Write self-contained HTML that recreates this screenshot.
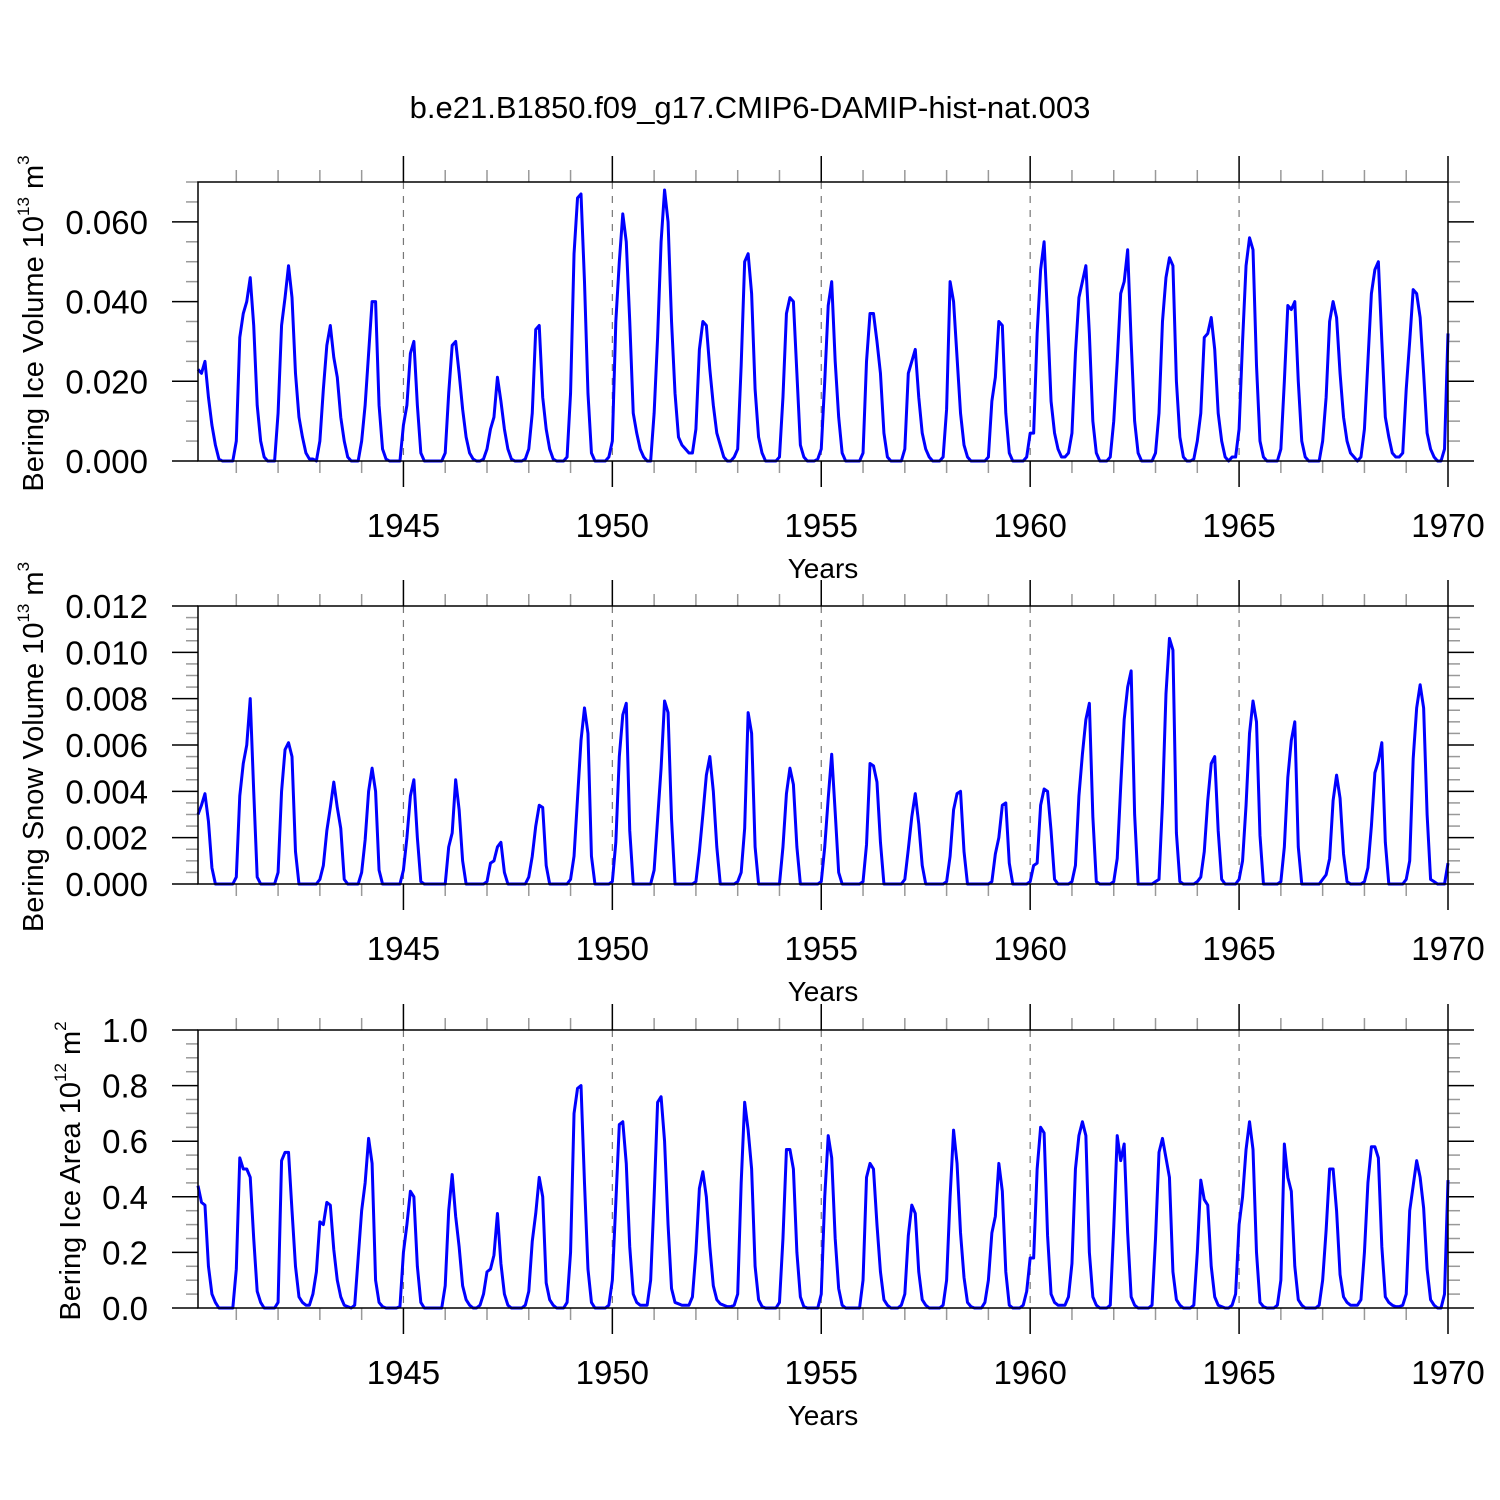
<!DOCTYPE html>
<html>
<head>
<meta charset="utf-8">
<style>
html,body{margin:0;padding:0;background:#fff;}
svg{display:block;font-family:"Liberation Sans",Arial,sans-serif;}
</style>
</head>
<body>
<svg id="chart" width="1500" height="1500" viewBox="0 0 1500 1500" xmlns="http://www.w3.org/2000/svg">
<rect width="1500" height="1500" fill="#fff"/>
<text x="750" y="118" font-size="31" text-anchor="middle">b.e21.B1850.f09_g17.CMIP6-DAMIP-hist-nat.003</text>
</svg>
<script>
// ---- data (monthly values, rows per year 1940..1969, time = year + (m+1)/12) ----
const startYear = 1940;
const yearTicks = [1945, 1950, 1955, 1960, 1965, 1970];
const volTickLabels = ["0.000", "0.020", "0.040", "0.060"];
const volTicks = [0, 0.02, 0.04, 0.06];
const snowTickLabels = ["0.000", "0.002", "0.004", "0.006", "0.008", "0.010", "0.012"];
const snowTicks = [0, 0.002, 0.004, 0.006, 0.008, 0.010, 0.012];
const areaTickLabels = ["0.0", "0.2", "0.4", "0.6", "0.8", "1.0"];
const areaTicks = [0, 0.2, 0.4, 0.6, 0.8, 1.0];

const iceVolume = [
[0.023,0.022,0.025,0.016,0.009,0.004,0.0005,0,0,0,0,0.005],
[0.031,0.037,0.040,0.046,0.034,0.014,0.005,0.001,0,0,0,0.012],
[0.034,0.041,0.049,0.041,0.022,0.011,0.006,0.002,0.0005,0.0005,0,0.005],
[0.018,0.029,0.034,0.026,0.021,0.011,0.005,0.001,0,0,0,0.005],
[0.014,0.027,0.040,0.040,0.014,0.003,0.0005,0,0,0,0,0.009],
[0.014,0.027,0.030,0.014,0.002,0,0,0,0,0,0,0.002],
[0.017,0.029,0.030,0.022,0.013,0.006,0.002,0.0005,0,0,0.0005,0.003],
[0.008,0.011,0.021,0.015,0.008,0.003,0.0005,0,0,0,0.0005,0.003],
[0.012,0.033,0.034,0.016,0.008,0.003,0.0005,0,0,0,0.001,0.017],
[0.052,0.066,0.067,0.045,0.017,0.002,0,0,0,0,0.001,0.005],
[0.035,0.050,0.062,0.055,0.035,0.012,0.007,0.003,0.001,0,0,0.012],
[0.031,0.055,0.068,0.060,0.035,0.017,0.006,0.004,0.003,0.002,0.002,0.008],
[0.028,0.035,0.034,0.023,0.014,0.007,0.004,0.001,0,0,0.001,0.003],
[0.024,0.050,0.052,0.042,0.018,0.006,0.002,0,0,0,0,0.001],
[0.016,0.037,0.041,0.040,0.022,0.004,0.001,0,0,0,0.0005,0.003],
[0.020,0.039,0.045,0.025,0.011,0.002,0,0,0,0,0,0.002],
[0.025,0.037,0.037,0.030,0.022,0.007,0.001,0,0,0,0,0.003],
[0.022,0.025,0.028,0.016,0.007,0.003,0.001,0,0,0,0.001,0.013],
[0.045,0.040,0.026,0.012,0.004,0.001,0,0,0,0,0,0.001],
[0.015,0.021,0.035,0.034,0.012,0.002,0,0,0,0,0.001,0.007],
[0.007,0.032,0.048,0.055,0.036,0.015,0.007,0.003,0.001,0.001,0.002,0.007],
[0.027,0.041,0.045,0.049,0.032,0.010,0.002,0,0,0,0.001,0.010],
[0.025,0.042,0.045,0.053,0.030,0.010,0.002,0,0,0,0,0.002],
[0.012,0.035,0.046,0.051,0.049,0.020,0.006,0.001,0,0,0.0005,0.005],
[0.012,0.031,0.032,0.036,0.028,0.012,0.005,0.001,0,0.001,0.001,0.008],
[0.030,0.049,0.056,0.053,0.024,0.005,0.001,0,0,0,0,0.003],
[0.020,0.039,0.038,0.040,0.020,0.005,0.001,0,0,0,0,0.005],
[0.016,0.035,0.040,0.036,0.022,0.011,0.005,0.002,0.001,0,0.001,0.008],
[0.025,0.042,0.048,0.050,0.030,0.011,0.006,0.002,0.001,0.001,0.002,0.018],
[0.030,0.043,0.042,0.036,0.022,0.007,0.003,0.001,0,0,0.003,0.032]
];

const snowVolume = [
[3.0,3.4,3.9,2.7,0.7,0,0,0,0,0,0,0.3],
[3.8,5.2,6.0,8.0,4.0,0.3,0,0,0,0,0,0.5],
[4.0,5.8,6.1,5.5,1.4,0,0,0,0,0,0,0.2],
[0.8,2.3,3.3,4.4,3.3,2.4,0.2,0,0,0,0,0.5],
[1.9,4.0,5.0,4.0,0.6,0,0,0,0,0,0,0.6],
[2.0,3.8,4.5,2.0,0.1,0,0,0,0,0,0,0],
[1.6,2.2,4.5,3.2,1.0,0,0,0,0,0,0,0.1],
[0.9,1.0,1.6,1.8,0.5,0,0,0,0,0,0,0.3],
[1.2,2.5,3.4,3.3,0.8,0,0,0,0,0,0,0.2],
[1.2,3.7,6.2,7.6,6.5,1.2,0,0,0,0,0,0.1],
[1.8,5.5,7.3,7.8,2.3,0,0,0,0,0,0,0.6],
[2.8,5.0,7.9,7.4,2.8,0,0,0,0,0,0,0.1],
[1.4,3.0,4.7,5.5,4.0,1.6,0,0,0,0,0,0.1],
[0.5,2.4,7.4,6.5,1.6,0,0,0,0,0,0,0],
[1.6,3.9,5.0,4.3,1.6,0,0,0,0,0,0,0.1],
[1.6,3.7,5.6,3.1,0.5,0,0,0,0,0,0,0.1],
[1.7,5.2,5.1,4.4,1.8,0,0,0,0,0,0,0.2],
[1.5,2.9,3.9,2.6,0.8,0,0,0,0,0,0,0.1],
[1.2,3.2,3.9,4.0,1.4,0,0,0,0,0,0,0],
[0.1,1.3,2.0,3.4,3.5,0.9,0,0,0,0,0,0.1],
[0.8,0.9,3.4,4.1,4.0,2.3,0.2,0,0,0,0,0.1],
[0.8,3.8,5.6,7.1,7.8,2.9,0.1,0,0,0,0,0.1],
[1.1,4.2,7.1,8.5,9.2,3.0,0,0,0,0,0,0.1],
[0.2,3.5,8.2,10.6,10.1,2.2,0.1,0,0,0,0,0.1],
[0.3,1.4,3.6,5.2,5.5,2.3,0.2,0,0,0,0,0.2],
[1.0,3.4,6.5,7.9,7.0,2.1,0,0,0,0,0,0.1],
[1.6,4.6,6.2,7.0,1.6,0,0,0,0,0,0,0.2],
[0.4,1.1,3.6,4.7,3.7,1.3,0.1,0,0,0,0,0.1],
[0.7,2.5,4.8,5.3,6.1,1.8,0,0,0,0,0,0.2],
[1.0,5.4,7.6,8.6,7.6,3.0,0.2,0.1,0,0,0,0.9]
];
const snowScale = 0.001;

const iceArea = [
[0.44,0.38,0.37,0.15,0.05,0.02,0,0,0,0,0,0.14],
[0.54,0.50,0.50,0.47,0.25,0.06,0.02,0,0,0,0,0.02],
[0.53,0.56,0.56,0.35,0.15,0.04,0.02,0.01,0.01,0.05,0.13,0.31],
[0.30,0.38,0.37,0.21,0.10,0.04,0.01,0.005,0,0.01,0.18,0.35],
[0.45,0.61,0.52,0.10,0.02,0.005,0,0,0,0,0.005,0.2],
[0.30,0.42,0.40,0.15,0.02,0,0,0,0,0,0,0.08],
[0.35,0.48,0.33,0.22,0.08,0.03,0.01,0,0,0.01,0.05,0.13],
[0.14,0.19,0.34,0.16,0.05,0.01,0,0,0,0,0.01,0.06],
[0.24,0.34,0.47,0.40,0.09,0.03,0.01,0,0,0,0.02,0.2],
[0.70,0.79,0.80,0.45,0.14,0.02,0,0,0,0,0.01,0.1],
[0.38,0.66,0.67,0.52,0.22,0.05,0.02,0.01,0.01,0.01,0.1,0.4],
[0.74,0.76,0.60,0.30,0.07,0.02,0.015,0.01,0.01,0.01,0.04,0.2],
[0.43,0.49,0.40,0.22,0.08,0.03,0.015,0.01,0.005,0.005,0.01,0.05],
[0.45,0.74,0.64,0.50,0.15,0.03,0.005,0,0,0,0,0.02],
[0.25,0.57,0.57,0.50,0.20,0.04,0.005,0,0,0,0,0.05],
[0.40,0.62,0.54,0.25,0.07,0.01,0,0,0,0,0,0.1],
[0.47,0.52,0.50,0.30,0.13,0.03,0.01,0,0,0,0.01,0.05],
[0.26,0.37,0.34,0.13,0.03,0.01,0,0,0,0,0.01,0.1],
[0.40,0.64,0.52,0.27,0.11,0.02,0.005,0,0,0,0.02,0.1],
[0.27,0.33,0.52,0.42,0.13,0.01,0,0,0,0.01,0.06,0.18],
[0.18,0.50,0.65,0.63,0.26,0.05,0.02,0.01,0.01,0.01,0.04,0.16],
[0.50,0.62,0.67,0.62,0.20,0.04,0.01,0,0,0,0.01,0.29],
[0.62,0.53,0.59,0.27,0.04,0.01,0,0,0,0,0.01,0.25],
[0.56,0.61,0.54,0.47,0.13,0.03,0.01,0,0,0,0.01,0.2],
[0.46,0.39,0.37,0.15,0.04,0.01,0.005,0,0,0.01,0.05,0.3],
[0.40,0.57,0.67,0.57,0.20,0.02,0.005,0,0,0,0.01,0.1],
[0.59,0.47,0.42,0.15,0.03,0.01,0,0,0,0,0.01,0.1],
[0.28,0.50,0.50,0.35,0.12,0.04,0.02,0.01,0.01,0.01,0.03,0.2],
[0.45,0.58,0.58,0.54,0.22,0.04,0.02,0.01,0.005,0.005,0.01,0.05],
[0.35,0.44,0.53,0.47,0.36,0.14,0.03,0.01,0,0,0.05,0.46]
];

// ---- layout ----
const NS = "http://www.w3.org/2000/svg";
const svg = document.getElementById("chart");
const X0 = 198, X1 = 1448;
const TMIN = 1940 + 1/12, TMAX = 1970;
function xScale(t){ return X0 + (t - TMIN) / (TMAX - TMIN) * (X1 - X0); }

function mk(tag, attrs, parent){
  const e = document.createElementNS(NS, tag);
  for (const k in attrs) e.setAttribute(k, attrs[k]);
  (parent || svg).appendChild(e);
  return e;
}

const panels = [
  {key:"ice-volume", top:182, bottom:461, ymax:0.07, rows:iceVolume, scale:1, ticks:volTicks, labels:volTickLabels, minor:0.005,
   title:["Bering Ice Volume 10","13"," m","3"], titleX:43},
  {key:"snow-volume", top:606, bottom:884, ymax:0.012, rows:snowVolume, scale:snowScale, ticks:snowTicks, labels:snowTickLabels, minor:0.0005,
   title:["Bering Snow Volume 10","13"," m","3"], titleX:43},
  {key:"ice-area", top:1030, bottom:1308, ymax:1.0, rows:iceArea, scale:1, ticks:areaTicks, labels:areaTickLabels, minor:0.05,
   title:["Bering Ice Area 10","12"," m","2"], titleX:80}
];

panels.forEach(function(p){
  const g = mk("g", {});
  
  
  const yScale = function(v){ return p.bottom - v / p.ymax * (p.bottom - p.top); };

  yearTicks.forEach(function(y){
    if (y >= 1970) return;
    const gl = mk("line", {x1:xScale(y), x2:xScale(y), y1:p.top, y2:p.bottom, stroke:"#777", "stroke-width":1.2, "stroke-dasharray":"7,7"}, g);
    
    
  });

  for (let y = 1941; y <= 1970; y++){
    const major = (y % 5 === 0);
    const len = major ? 26 : 12;
    const col = major ? "#000" : "#999";
    const xx = xScale(y);
    const tb = mk("line", {x1:xx, x2:xx, y1:p.bottom, y2:p.bottom + len, stroke:col, "stroke-width":1.5}, g);
    
    
    const tt = mk("line", {x1:xx, x2:xx, y1:p.top, y2:p.top - len, stroke:col, "stroke-width":1.5}, g);
    
    
  }

  const nMinor = Math.round(p.ymax / p.minor);
  for (let i = 0; i <= nMinor; i++){
    const v = i * p.minor;
    const isMajor = p.ticks.some(function(t){ return Math.abs(t - v) < p.minor/10; });
    const len = isMajor ? 26 : 12;
    const col = isMajor ? "#000" : "#999";
    const yy = yScale(v);
    const tl = mk("line", {x1:X0 - len, x2:X0, y1:yy, y2:yy, stroke:col, "stroke-width":1.5}, g);
    
    
    const tr = mk("line", {x1:X1, x2:X1 + len, y1:yy, y2:yy, stroke:col, "stroke-width":1.5}, g);
    
    
  }

  p.ticks.forEach(function(t, i){
    const tx = mk("text", {x:148, y:yScale(t) + 12, "font-size":33, "text-anchor":"end"}, g);
    tx.textContent = p.labels[i];
    
    
  });

  yearTicks.forEach(function(y){
    const tx = mk("text", {x:xScale(y), y:p.bottom + 76, "font-size":33, "text-anchor":"middle"}, g);
    tx.textContent = String(y);
    
    
  });

  const xt = mk("text", {x:823, y:p.bottom + 117, "font-size":28, "text-anchor":"middle"}, g);
  xt.textContent = "Years";
  
  

  const cy = (p.top + p.bottom) / 2;
  const yt = mk("text", {x:0, y:0, "font-size":29, "text-anchor":"middle", transform:"translate(" + p.titleX + "," + (cy + 2) + ") rotate(-90)"}, g);
  
  
  const s1 = mk("tspan", {}, yt); s1.textContent = p.title[0];
  const s2 = mk("tspan", {"font-size":17, dy:-14}, yt); s2.textContent = p.title[1];
  const s3 = mk("tspan", {dy:14}, yt); s3.textContent = p.title[2];
  const s4 = mk("tspan", {"font-size":17, dy:-14}, yt); s4.textContent = p.title[3];

  let d = "";
  p.rows.forEach(function(row, yi){
    row.forEach(function(v, m){
      const t = startYear + yi + (m + 1) / 12;
      d += (d ? "L" : "M") + xScale(t).toFixed(2) + "," + yScale(v * p.scale).toFixed(2);
    });
  });
  const path = mk("path", {d:d, fill:"none", stroke:"#0000ff", "stroke-width":3, "stroke-linejoin":"round"}, g);
  
  

  const fr = mk("rect", {x:X0, y:p.top, width:X1 - X0, height:p.bottom - p.top, fill:"none", stroke:"#000", "stroke-width":1.5}, g);
  
  
});
</script>
</body>
</html>
